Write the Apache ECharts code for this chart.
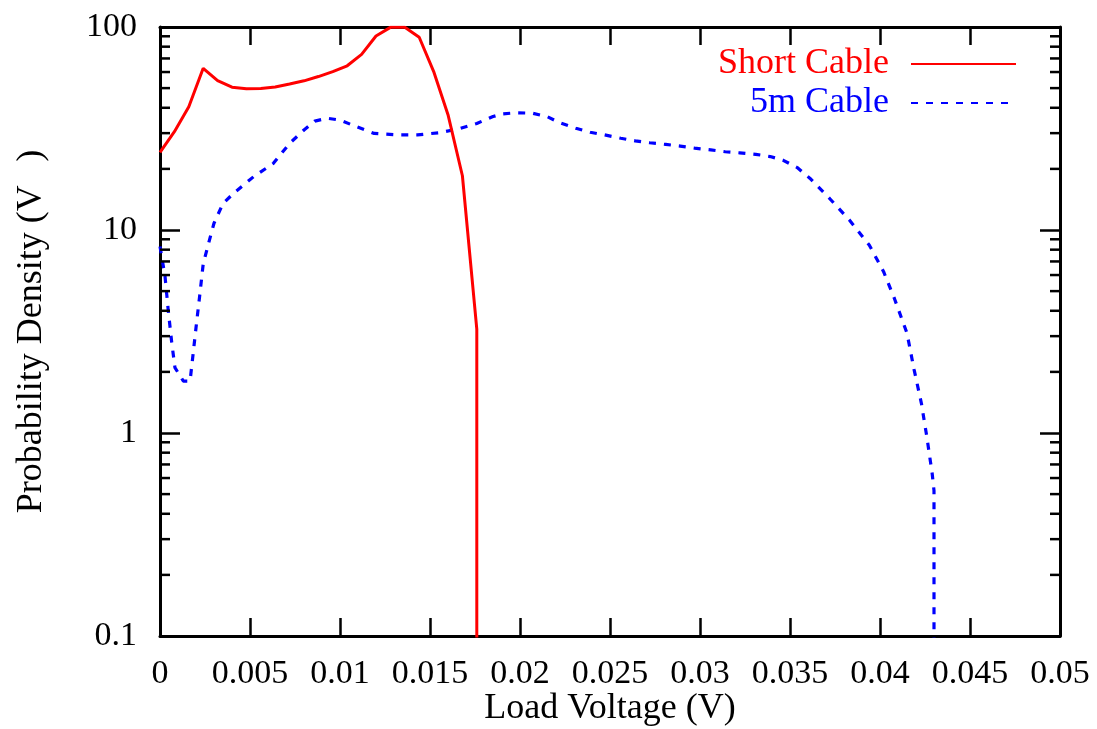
<!DOCTYPE html>
<html>
<head>
<meta charset="utf-8">
<title>Load Voltage Probability Density</title>
<script src="https://cdn.jsdelivr.net/npm/echarts@6/dist/echarts.min.js"></script>
<style>
  html, body { margin: 0; padding: 0; background: #ffffff; }
  #chart { width: 1097px; height: 729px; }
</style>
</head>
<body>
<div id="chart"></div>
<script>
// Short cable: load voltage (V) and probability density (1/V)
const shortVoltage = [0, 0.0008, 0.0016, 0.0024, 0.0032, 0.004, 0.0048, 0.0056, 0.0064, 0.0072,
  0.008, 0.0088, 0.0096, 0.0104, 0.0112, 0.012, 0.0128, 0.0136, 0.0144, 0.0152, 0.016, 0.0168,
  0.0176, 0.0176];
const shortDensity = [24.1, 30.5, 40.5, 62.6, 54.4, 50.5, 49.6, 49.8, 50.6, 52.4,
  54.3, 57, 60.3, 64.4, 73.3, 90.3, 99.6, 99.6, 89, 60.5, 37, 18.5,
  3.25, 0.01];

// 5 m cable: load voltage (V) and probability density (1/V)
const cableVoltage = [0, 0.00028, 0.00046, 0.00065, 0.00083, 0.0013, 0.00167, 0.00185, 0.002, 0.0022,
  0.0024, 0.0027, 0.003, 0.0035, 0.0041, 0.0052, 0.0063, 0.0072, 0.008, 0.0086,
  0.0093, 0.01, 0.0109, 0.0119, 0.0133, 0.0143, 0.0156, 0.0167, 0.0176, 0.0185,
  0.019, 0.0198, 0.0207, 0.0215, 0.0222, 0.0231, 0.0239, 0.0247, 0.0256, 0.0264,
  0.0272, 0.0281, 0.0289, 0.0297, 0.0306, 0.0314, 0.0322, 0.0331, 0.0339, 0.0346,
  0.0354, 0.0361, 0.0372, 0.0383, 0.0394, 0.0402, 0.0408, 0.0415, 0.0419, 0.0423,
  0.0426, 0.0429, 0.043, 0.043];
const cableDensity = [8.3, 5.9, 4.0, 2.8, 2.1, 1.8, 1.8, 2.5, 3.3, 4.7,
  6.8, 8.6, 10.8, 13.5, 15.2, 18.3, 21.3, 26.7, 31.1, 34.4,
  35.5, 34.8, 32.3, 29.9, 29.4, 29.4, 30.2, 31.7, 33.5, 36.2,
  37.3, 37.8, 37.6, 36.2, 33.8, 31.7, 30.3, 29.4, 28.3, 27.5,
  26.9, 26.4, 25.9, 25.3, 24.8, 24.3, 24.0, 23.6, 23.0, 22.1,
  20.3, 18.0, 14.3, 11.2, 8.44, 6.23, 4.6, 3.1, 2.04, 1.4,
  0.96, 0.63, 0.52, 0.01];

const seriesNames = ['Short Cable', '5m Cable'];

// Axis tick labels
const xTickLabels = ['0', '0.005', '0.01', '0.015', '0.02', '0.025', '0.03', '0.035', '0.04', '0.045', '0.05'];
const yTickLabels = ['0.1', '1', '10', '100'];
// Minor tick positions on the logarithmic density axis
const yMinorTicks = [0.2, 0.3, 0.4, 0.5, 0.6, 0.7, 0.8, 0.9,
  2, 3, 4, 5, 6, 7, 8, 9,
  20, 30, 40, 50, 60, 70, 80, 90];

const X_MIN = 0, X_MAX = 0.05, X_STEP = 0.005;
const FONT = '"Liberation Serif", "DejaVu Serif", serif';
const BLACK = '#000000';

const zip = (xs, ys) => xs.map((x, i) => [x, ys[i]]);

const xAxisBase = {
  type: 'value',
  min: X_MIN,
  max: X_MAX,
  interval: X_STEP,
  splitLine: { show: false },
  axisLine: { show: true, onZero: false, lineStyle: { color: BLACK, width: 3 } },
  axisTick: { show: true, inside: true, length: 18, lineStyle: { color: BLACK, width: 2.5 } }
};
const yAxisBase = {
  type: 'log',
  logBase: 10,
  min: 0.1,
  max: 100,
  splitLine: { show: false },
  axisLine: { show: true, onZero: false, lineStyle: { color: BLACK, width: 3 } },
  axisTick: { show: true, inside: true, length: 20, lineStyle: { color: BLACK, width: 2.5 } }
};

const chart = echarts.init(document.getElementById('chart'), null, { renderer: 'canvas' });

chart.setOption({
  backgroundColor: '#ffffff',
  animation: false,
  textStyle: { fontFamily: FONT },
  grid: { left: 160, right: 37, top: 27, bottom: 93, containLabel: false, outerBoundsMode: 'none' },
  legend: {
    orient: 'vertical',
    right: 75,
    top: 41,
    align: 'right',
    itemWidth: 105,
    itemHeight: 14,
    itemGap: 3,
    selectedMode: false,
    itemStyle: { opacity: 0 },
    data: [
      { name: seriesNames[0], textStyle: { color: '#ff0000' } },
      { name: seriesNames[1], textStyle: { color: '#0000ff' } }
    ],
    textStyle: { fontFamily: FONT, fontSize: 36, lineHeight: 32, padding: [0, 17, 0, 0] }
  },
  xAxis: [
    Object.assign({}, xAxisBase, {
      position: 'bottom',
      name: 'Load Voltage (V)',
      nameLocation: 'middle',
      nameGap: 55,
      nameMoveOverlap: false,
      nameTextStyle: { fontFamily: FONT, fontSize: 36, color: BLACK },
      axisLabel: {
        show: true,
        margin: 21,
        fontFamily: FONT,
        fontSize: 34,
        color: BLACK,
        formatter: v => xTickLabels[Math.round((v - X_MIN) / X_STEP)]
      }
    }),
    Object.assign({}, xAxisBase, { position: 'top', axisLabel: { show: false } })
  ],
  yAxis: [
    Object.assign({}, yAxisBase, {
      position: 'left',
      name: '{t|Probability Density (V}{s|\u22121}{t|)}',
      nameLocation: 'middle',
      nameRotate: 90,
      nameGap: 78,
      nameMoveOverlap: false,
      nameTextStyle: {
        fontFamily: FONT,
        color: BLACK,
        rich: {
          t: { fontFamily: FONT, fontSize: 36, lineHeight: 100, color: BLACK },
          s: { fontFamily: FONT, fontSize: 22, lineHeight: 22, verticalAlign: 'top', color: BLACK }
        }
      },
      axisLabel: {
        show: true,
        margin: 23,
        fontFamily: FONT,
        fontSize: 34,
        color: BLACK,
        formatter: v => yTickLabels[Math.round(Math.log10(v)) + 1]
      }
    }),
    Object.assign({}, yAxisBase, { position: 'right', axisLabel: { show: false } })
  ],
  series: [
    {
      name: seriesNames[0],
      type: 'line',
      xAxisIndex: 0,
      yAxisIndex: 0,
      data: zip(shortVoltage, shortDensity),
      symbol: 'none',
      showSymbol: false,
      clip: true,
      z: 3,
      color: '#ff0000',
      lineStyle: { color: '#ff0000', width: 3, type: 'solid' }
    },
    {
      name: seriesNames[1],
      type: 'line',
      xAxisIndex: 0,
      yAxisIndex: 0,
      data: zip(cableVoltage, cableDensity),
      symbol: 'none',
      showSymbol: false,
      clip: true,
      z: 2,
      color: '#0000ff',
      lineStyle: { color: '#0000ff', width: 3.2, type: [7, 8] }
    },
    {
      // minor log ticks on the left and right frame edges
      name: 'minorTicks',
      type: 'custom',
      xAxisIndex: 0,
      yAxisIndex: 0,
      silent: true,
      clip: false,
      z: 5,
      data: yMinorTicks.map(v => [X_MIN, v]),
      encode: { x: 0, y: 1 },
      renderItem: function (params, api) {
        const v = api.value(1);
        const l = api.coord([X_MIN, v]);
        const r = api.coord([X_MAX, v]);
        const len = 10;
        const st = { stroke: BLACK, lineWidth: 2.5 };
        return {
          type: 'group',
          children: [
            { type: 'line', shape: { x1: l[0], y1: l[1], x2: l[0] + len, y2: l[1] }, style: st },
            { type: 'line', shape: { x1: r[0] - len, y1: r[1], x2: r[0], y2: r[1] }, style: st }
          ]
        };
      }
    }
  ]
});
</script>
</body>
</html>
